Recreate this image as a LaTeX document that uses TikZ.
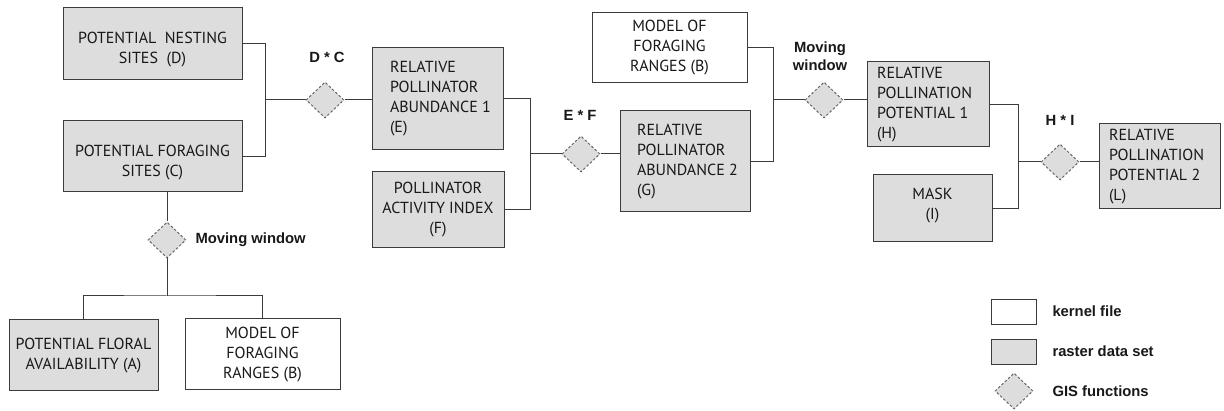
\documentclass[tikz,border=0pt]{standalone}
\usepackage{fontspec}
\setmainfont{PT Sans}
\newfontfamily\lblfont{Liberation Sans}
\usetikzlibrary{shapes.geometric}
\definecolor{boxgray}{RGB}{221,221,221}
\definecolor{ink}{RGB}{25,23,25}
\begin{document}
\begin{tikzpicture}[x=1pt,y=-1pt,
  line width=1pt,
  rbox/.style={draw=ink!85, fill=boxgray, inner sep=0pt, align=center,
    font=\fontsize{16}{20}\selectfont, text=ink},
  kbox/.style={rbox, fill=white},
  btext/.style={inner sep=0pt, align=center, font=\fontsize{16}{20}\selectfont, text=ink},
  ltext/.style={btext, align=left, anchor=west},
  gis/.style={diamond, draw=black!60, dash pattern=on 2.5pt off 2pt, fill=boxgray,
    minimum width=38pt, minimum height=36pt, inner sep=0pt},
  lbl/.style={font=\lblfont\bfseries\fontsize{14.8}{18}\selectfont, text=ink,
    inner sep=0pt, align=center},
  conn/.style={draw=ink!85}
]
\useasboundingbox (0,0) rectangle (1224,411);

% boxes
\node[rbox, minimum width=179pt, minimum height=72pt] (D) at (152.5,44) {};
\node[btext] (Dt) at ([yshift=-5.5pt]D.center) {POTENTIAL\ \ NESTING\\SITES\ \ (D)};
\node[rbox, minimum width=179pt, minimum height=71pt] (C) at (152.5,156.5) {};
\node[btext] (Ct) at ([yshift=-6pt]C.center) {POTENTIAL FORAGING\\SITES (C)};
\node[rbox, minimum width=131pt, minimum height=102pt] (E) at (437.5,99) {};
\node[ltext] (Et) at ([xshift=18pt]E.west) {RELATIVE\\POLLINATOR\\ABUNDANCE 1\\(E)};
\node[rbox, minimum width=132pt, minimum height=76pt] (F) at (438,210)
  {POLLINATOR\\ACTIVITY INDEX\\(F)};
\node[kbox, minimum width=155pt, minimum height=70pt] (B) at (669.5,48)
  {MODEL OF\\FORAGING\\RANGES (B)};
\node[rbox, minimum width=130pt, minimum height=101pt] (G) at (685,161.5) {};
\node[ltext] (Gt) at ([xshift=17pt]G.west) {RELATIVE\\POLLINATOR\\ABUNDANCE 2\\(G)};
\node[rbox, minimum width=122pt, minimum height=85pt] (H) at (928,104.5) {};
\node[ltext] (Ht) at ([xshift=10pt]H.west) {RELATIVE\\POLLINATION\\POTENTIAL 1\\(H)};
\node[rbox, minimum width=119pt, minimum height=67pt] (I) at (932.5,208.5) {};
\node[btext] (It) at ([yshift=3pt]I.center) {MASK\\(I)};
\node[rbox, minimum width=121pt, minimum height=85pt] (L) at (1159.5,166.5) {};
\node[ltext] (Lt) at ([xshift=10pt]L.west) {RELATIVE\\POLLINATION\\POTENTIAL 2\\(L)};
\node[rbox, minimum width=149pt, minimum height=71pt] (A) at (83.5,355.5)
  {POTENTIAL FLORAL\\AVAILABILITY (A)};
\node[kbox, minimum width=155pt, minimum height=71pt] (B2) at (262.5,354.5)
  {MODEL OF\\FORAGING\\RANGES (B)};

% GIS functions
\node[gis] (dDC) at (325,100) {};
\node[gis] (dEF) at (581,154) {};
\node[gis] (dMW2) at (824,100) {};
\node[gis] (dHI) at (1060,162) {};
\node[gis] (dMW) at (167,240) {};

% function labels
\node[lbl] (tDC) at (327,57) {D * C};
\node[lbl] (tEF) at (580,115) {E * F};
\node[lbl] (tMW2) at (820,56) {Moving\\window};
\node[lbl] (tHI) at (1060,120) {H * I};
\node[lbl, anchor=west] (tMW) at (195,240) {Moving window};

% junctions
\coordinate (jDC) at (265,100);
\coordinate (jEF) at (530,154);
\coordinate (jBG) at (773,100);
\coordinate (jHI) at (1018,162);
\coordinate (jAB) at (167,296);

% connectors
\draw[conn] (D.east) -- ++(23,0) |- (C.east);
\draw[conn] (jDC) -- (dDC.west);
\draw[conn] (dDC.east) -- (dDC.east -| E.west);
\draw[conn] (E.east) -- ++(27,0) |- (F.east);
\draw[conn] (jEF) -- (dEF.west);
\draw[conn] (dEF.east) -- (dEF.east -| G.west);
\draw[conn] (B.east) -- ++(26,0) |- (G.east);
\draw[conn] (jBG) -- (dMW2.west);
\draw[conn] (dMW2.east) -- (dMW2.east -| H.west);
\draw[conn] (H.east) -- ++(29,0) |- (I.east);
\draw[conn] (jHI) -- (dHI.west);
\draw[conn] (dHI.east) -- (dHI.east -| L.west);
\draw[conn] (C.south -| dMW.north) -- (dMW.north);
\draw[conn] (dMW.south) -- (jAB);
\draw[conn] (A.north) |- (jAB) -| (B2.north);

% legend
\node[kbox, minimum width=45pt, minimum height=25pt] (legK) at (1013.5,312.5) {};
\node[rbox, minimum width=45pt, minimum height=25pt] (legR) at (1013.5,352.5) {};
\node[gis] (legG) at (1014,391) {};
\node[lbl, anchor=west] (legKt) at (1052,311) {kernel file};
\node[lbl, anchor=west] (legRt) at (1052,351) {raster data set};
\node[lbl, anchor=west] (legGt) at (1052,391) {GIS functions};
\end{tikzpicture}
\end{document}
